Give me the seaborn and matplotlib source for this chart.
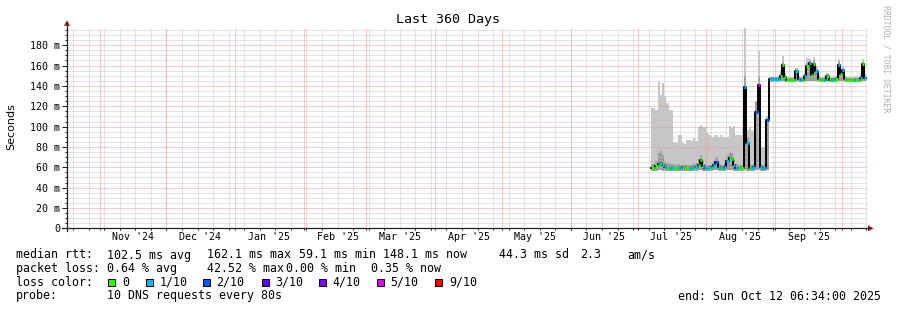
import numpy as np
import pandas as pd
import matplotlib
matplotlib.use("Agg")
import matplotlib.pyplot as plt
import seaborn as sns
from matplotlib.patches import Polygon, Rectangle

W, H = 897, 310
MONO = "DejaVu Sans Mono"

# ---------------- data (one value per day, starting 2025-07-07) ----------------
median_ms = [
    59, 59, 61, 63, 64, 62, 60, 59, 59, 59,
    59, 59, 59, 59, 60, 59, 59, 59, 59, 59,
    60, 62, 67, 61, 59, 59, 59, 60, 62, 65,
    60, 59, 59, 60, 66, 69, 68, 62, 59, 59,
    59, 59, 139, 84, 59, 59, 60, 114, 141, 60,
    59, 59, 106, 147, 147, 147, 147, 147, 150, 161,
    149, 146, 146, 146, 146, 155, 147, 146, 146, 150,
    160, 163, 151, 162, 155, 147, 146, 146, 146, 150,
    146, 146, 146, 147, 161, 152, 156, 147, 146, 146,
    146, 146, 146, 146, 148, 162, 148]
smoke_max_ms = [
    118, 118, 116, 144, 131, 143, 130, 123, 116, 116,
    85, 84, 92, 92, 84, 83, 87, 87, 86, 89,
    86, 100, 102, 100, 100, 94, 92, 90, 90, 92,
    90, 92, 90, 90, 90, 101, 99, 101, 92, 92,
    92, 100, 215, 97, 100, 97, 96, 100, 174, 80,
    80, 80, 110, 149, 149, 149, 149, 150, 156, 169,
    153, 149, 149, 149, 150, 158, 150, 149, 150, 155,
    167, 166, 156, 168, 160, 150, 149, 149, 150, 153,
    149, 149, 150, 150, 166, 156, 159, 150, 149, 149,
    149, 149, 150, 149, 152, 166, 152]
smoke_mid_ms = [
    63, 63, 66, 74, 76, 72, 66, 64, 63, 63,
    62, 62, 63, 62, 62, 62, 62, 62, 62, 63,
    64, 68, 72, 66, 63, 62, 62, 63, 66, 70,
    64, 62, 62, 64, 72, 75, 74, 67, 63, 62,
    62, 63, 150, 90, 63, 62, 63, 125, 150, 63,
    62, 62, 108, 149, 149, 149, 149, 149, 153, 164,
    151, 148, 148, 148, 148, 157, 149, 148, 148, 152,
    163, 165, 153, 165, 157, 149, 148, 148, 148, 152,
    148, 148, 148, 149, 164, 154, 158, 149, 148, 148,
    148, 148, 148, 148, 150, 164, 150]
smoke_min_ms = [
    56, 56, 56, 57, 57, 56, 56, 56, 56, 56,
    56, 56, 56, 56, 56, 56, 56, 56, 56, 56,
    56, 57, 57, 56, 56, 56, 56, 56, 57, 57,
    56, 56, 56, 56, 57, 57, 57, 56, 56, 56,
    56, 56, 57, 56, 56, 56, 56, 57, 57, 56,
    56, 56, 57, 144, 144, 144, 144, 144, 145, 145,
    144, 144, 144, 144, 144, 145, 144, 144, 144, 145,
    145, 145, 145, 145, 145, 144, 144, 144, 144, 145,
    144, 144, 144, 144, 145, 145, 145, 144, 144, 144,
    144, 144, 144, 144, 144, 145, 145]
loss_level = [
    0, 0, 0, 1, 0, 1, 1, 0, 1, 1,
    0, 0, 1, 1, 0, 0, 0, 1, 1, 0,
    1, 0, 0, 1, 1, 1, 0, 1, 1, 2,
    1, 0, 1, 1, 1, 0, 0, 1, 1, 0,
    0, 0, 1, 1, 0, 1, 1, 2, 5, 1,
    1, 1, 2, 1, 1, 1, 1, 1, 0, 0,
    0, 0, 0, 0, 0, 1, 1, 1, 0, 1,
    0, 1, 0, 0, 1, 0, 0, 0, 1, 0,
    0, 1, 0, 0, 1, 0, 1, 0, 0, 0,
    0, 1, 0, 0, 1, 0, 1]

loss_labels = ["0", "1/10", "2/10", "3/10", "4/10", "5/10", "9/10"]
loss_colors = ["#26ff00", "#00b8ff", "#0059ff", "#5e00ff", "#7e00ff", "#dd00ff", "#ff0000"]

y_ticks_ms = [0, 20, 40, 60, 80, 100, 120, 140, 160, 180]
y_tick_labels = ["0", "20 m", "40 m", "60 m", "80 m", "100 m", "120 m", "140 m", "160 m", "180 m"]
month_labels = ["Nov '24", "Dec '24", "Jan '25", "Feb '25", "Mar '25", "Apr '25",
                "May '25", "Jun '25", "Jul '25", "Aug '25", "Sep '25"]

stats_rtt = ["102.5 ms avg", "162.1 ms max", "59.1 ms min", "148.1 ms now", "44.3 ms sd", "2.3", "am/s"]
stats_loss = ["0.64 % avg", "42.52 % max", "0.00 % min", "0.35 % now"]

# ---------------- time axis ----------------
t_start = pd.Timestamp("2024-10-17 06:34")
t_end = pd.Timestamp("2025-10-12 06:34")
span = (t_end - t_start) / pd.Timedelta(days=1)
def tday(ts):
    return (pd.Timestamp(ts) - t_start) / pd.Timedelta(days=1)

first_day = tday("2025-07-07")
n = len(median_ms)
x = first_day + np.arange(n, dtype=float)
df = pd.DataFrame({"x": x, "median": median_ms})
xe = np.append(x, x[-1] + 1)
def ext(a):
    a = np.asarray(a, dtype=float)
    return np.append(a, a[-1])

month_starts = pd.date_range("2024-11-01", "2025-10-01", freq="MS")
month_x = [tday(m) for m in month_starts]
label_x = [tday(m) + 15 for m in month_starts[:len(month_labels)]]
week_x = [tday(w) for w in pd.date_range("2024-10-20", t_end, freq="7D")]

# ---------------- figure ----------------
fig = plt.figure(figsize=(W / 100, H / 100), dpi=100)
fig.patch.set_facecolor("white")
X0, X1, Y0, Y1 = 67, 867, 228.3, 28.3
ax = fig.add_axes([X0 / W, 1 - Y0 / H, (X1 - X0) / W, (Y0 - Y1) / H])
ax.set_facecolor("white")
ax.set_xlim(0, span)
ax.set_ylim(0, 200 / 1.017)
for s in ax.spines.values():
    s.set_visible(False)

# smoke
ax.fill_between(xe, ext(smoke_min_ms), ext(smoke_max_ms), step="post", color="#c6c6c6", lw=0, zorder=1)
ax.fill_between(xe, ext(smoke_min_ms), ext(smoke_mid_ms), step="post", color="#9c9c9c", lw=0, zorder=1.1)

# grid
dots = (0, (1, 1))
for v in range(5, 200, 5):
    if v % 20:
        ax.axhline(v, color="#c8c8c8", lw=0.72, ls=dots, zorder=2)
for v in range(20, 200, 20):
    ax.axhline(v, color="#ec9898", lw=0.72, ls=dots, zorder=2)
for v in week_x:
    ax.axvline(v, color="#c8c8c8", lw=0.72, ls=dots, zorder=2)
for v in month_x:
    ax.axvline(v, color="#ec9898", lw=0.72, ls=dots, zorder=2)

# median line (black) + loss-coloured median
sns.lineplot(data=pd.DataFrame({"x": xe, "median": ext(median_ms)}), x="x", y="median",
             drawstyle="steps-post", color="black", lw=1.4, ax=ax, estimator=None,
             sort=False, zorder=3)
ax.hlines(df["median"], df["x"], df["x"] + 1, colors=[loss_colors[l] for l in loss_level],
          lw=2.2, zorder=4, capstyle="butt")
ax.set_xlabel("")
ax.set_ylabel("")

# ticks
ax.set_yticks(y_ticks_ms, y_tick_labels)
ax.set_yticks(list(range(5, 200, 5)), minor=True)
ax.tick_params(axis="y", which="major", length=3.6, width=0.72, pad=1.4, color="#1f1f1f",
               labelsize=7.2)
ax.tick_params(axis="y", which="minor", length=1.5, width=0.72, color="#1f1f1f")
ax.set_xticks(label_x, month_labels)
ax.set_xticks(week_x + month_x, minor=True)
ax.tick_params(axis="x", which="major", length=0, pad=2.6, labelsize=7.2)
ax.tick_params(axis="x", which="minor", length=1.5, width=0.72, color="#1f1f1f")
for lab in ax.get_xticklabels() + ax.get_yticklabels():
    lab.set_fontfamily(MONO)

# axis lines and arrows (figure pixel coords, origin top-left)
def P(px, py):
    return (px / W, 1 - py / H)
def fline(xs, ys, **kw):
    fig.add_artist(plt.Line2D([a / W for a in xs], [1 - b / H for b in ys],
                              transform=fig.transFigure, **kw))
fline([62, 868], [Y0, Y0], color="#1f1f1f", lw=0.9)
fline([X0, X0], [231, 25], color="#1f1f1f", lw=0.9)
fig.add_artist(Polygon([P(868, 225.3), P(873.5, Y0), P(868, 231.3)], closed=True,
                       transform=fig.transFigure, color="#7f1f1f", lw=0))
fig.add_artist(Polygon([P(64, 25.8), P(X0, 20.3), P(70, 25.8)], closed=True,
                       transform=fig.transFigure, color="#7f1f1f", lw=0))

# texts
def ftext(px, py, s, **kw):
    kw.setdefault("family", MONO)
    kw.setdefault("fontsize", 8.35)
    kw.setdefault("va", "center")
    fig.text(px / W, 1 - py / H, s, **kw)

ftext(448, 19.5, "Last 360 Days", fontsize=9.6, ha="center")
ftext(11, 127, "Seconds", family="DejaVu Sans", fontsize=8, rotation=90, ha="center")
ftext(886, 59, "RRDTOOL / TOBI OETIKER", fontsize=5.9, rotation=270, ha="center",
      color="#b0b0b0")

r1, r2, r3, r4 = 255, 268.5, 282.3, 296
ftext(15.5, r1, "median rtt:")
for px, s in zip([106.5, 206.8, 298.5, 382.5, 498.5, 580.3, 627.5], stats_rtt):
    ftext(px, r1, s)
ftext(15.5, r2, "packet loss:")
for px, s in zip([106.5, 206.5, 286, 371], stats_loss):
    ftext(px, r2, s)
ftext(15.5, r3, "loss color:")
box_x = [108.3, 145.7, 202.7, 261.7, 319.3, 376.7, 435]
txt_x = [122, 159.3, 216.6, 275.3, 332.6, 390.3, 449.6]
for bx, tx, c, s in zip(box_x, txt_x, loss_colors, loss_labels):
    fig.add_artist(Rectangle(P(bx, r3 + 3.5), 7 / W, 7 / H, transform=fig.transFigure,
                             facecolor=c, edgecolor="black", lw=0.72))
    ftext(tx, r3, s)
ftext(15.5, r4, "probe:")
ftext(106.5, r4, "10 DNS requests every 80s")
ftext(677.5, r4, "end: Sun Oct 12 06:34:00 2025")

fig.savefig("out.png", dpi=100, facecolor="white")
